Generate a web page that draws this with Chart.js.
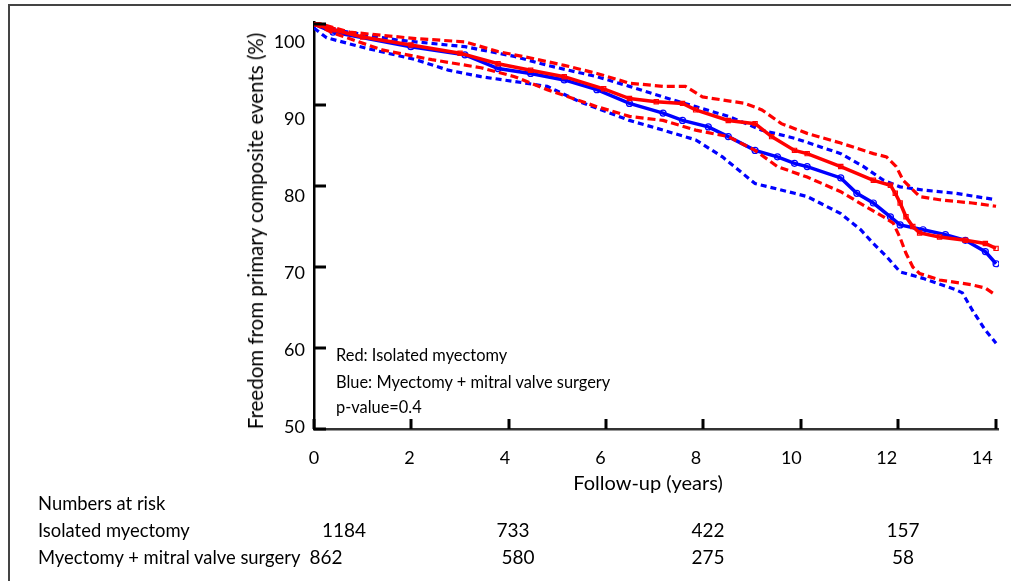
<!DOCTYPE html>
<html><head><meta charset="utf-8">
<script src="https://cdn.jsdelivr.net/npm/chart.js@4/dist/chart.umd.min.js"></script>
<style>
html,body{margin:0;padding:0;background:#fff;}
#wrap{position:relative;width:1011px;height:581px;overflow:hidden;font-family:Lato,"DejaVu Sans",sans-serif;color:#000;}
#frame{position:absolute;left:8px;top:4px;width:1100px;height:700px;border-left:2px solid #444;border-top:2px solid #444;}
canvas{position:absolute;left:0;top:0;}
.t{position:absolute;white-space:nowrap;line-height:20px;}
.a{font-size:16.4px;}
.b{font-size:18.4px;}
.n{font-size:19px;}
</style></head><body>
<div id="wrap">
<div id="frame"></div>
<canvas id="c" width="1011" height="581"></canvas>
<div class="t" style="left:255px;top:231px;font-size:20.5px;transform:translate(-50%,-50%) rotate(-90deg);">Freedom from primary composite events (%)</div>
<div class="t" style="left:648px;top:482px;font-size:20px;transform:translate(-50%,-50%);" id="xt"></div>
<div class="t a" style="left:336px;top:345px;">Red: Isolated myectomy</div>
<div class="t a" style="left:336px;top:372px;">Blue: Myectomy + mitral valve surgery</div>
<div class="t a" style="left:336px;top:397px;">p-value=0.4</div>
<div class="t b" style="left:38px;top:493px;">Numbers at risk</div>
<div class="t b" style="left:38px;top:520px;">Isolated myectomy</div>
<div class="t b" style="left:38px;top:547px;">Myectomy + mitral valve surgery</div>
<div id="risk"></div>
</div>
<script>
// ---- data (years, % free from events) ----
const xTickVals = [0, 2, 4, 6, 8, 10, 12, 14];
const yTickVals = [50, 60, 70, 80, 90, 100];
const xTitle = "Follow-up (years)";

const redT   = [0,0.39,1.0,1.99,3.0,3.78,4.45,5.14,5.95,6.48,7.03,7.57,7.84,8.51,9.06,9.4,9.87,10.13,10.82,11.49,11.84,11.94,12.04,12.16,12.3,12.44,12.85,13.38,13.79,14.01];
const redV   = [100,99.3,98.4,97.4,96.4,95.1,94.3,93.5,92.0,90.8,90.4,90.2,89.4,88.1,87.7,86.1,84.4,84.0,82.4,80.7,80.1,79.1,77.9,76.2,75.0,74.2,73.7,73.3,72.9,72.3];
const redUpT = [0,0.73,2.09,3.1,3.78,4.45,5.14,5.81,6.48,7.17,7.63,7.98,8.85,9.2,9.6,10.13,10.82,11.49,11.76,11.96,12.1,12.24,12.44,12.85,13.52,14.01];
const redUpV = [100.25,99.0,98.2,97.8,96.6,95.8,94.9,93.9,92.7,92.3,92.3,91.0,90.2,89.4,87.7,86.5,85.3,84.0,83.6,82.4,80.7,79.9,78.7,78.3,77.9,77.5];
const redLoT = [0,0.39,1.4,2.42,3.43,4.12,4.79,5.81,6.48,7.17,7.84,8.51,9.06,9.52,10.13,10.82,11.35,11.7,11.9,12.04,12.16,12.3,12.44,12.85,13.52,13.79,14.01];
const redLoV = [100,98.9,96.8,95.6,94.6,93.5,91.9,89.8,88.6,88.1,86.9,86.1,84.4,82.4,81.1,79.3,77.4,76.2,75.4,73.6,71.7,70.0,69.2,68.4,67.8,67.4,66.5];

const blueT   = [0,0.39,1.99,3.1,3.78,4.45,5.14,5.81,6.48,7.17,7.57,8.1,8.51,9.06,9.52,9.87,10.13,10.82,11.15,11.49,11.84,12.04,12.51,12.97,13.38,13.79,14.01];
const blueV   = [100,99.0,97.2,96.2,94.5,93.9,93.1,91.9,90.2,89.0,88.1,87.3,86.1,84.4,83.6,82.8,82.4,81.0,79.1,77.9,76.2,75.2,74.6,74.0,73.3,71.9,70.4];
const blueUpT = [0,0.39,1.75,3.1,4.12,4.79,5.81,6.48,7.17,7.84,8.51,9.2,9.87,10.82,11.29,11.7,12.04,12.51,13.18,14.01];
const blueUpV = [100.25,99.3,98.0,97.2,96.0,94.9,93.5,92.3,91.0,89.8,88.6,86.9,85.9,84.0,82.4,80.7,79.9,79.5,79.1,78.3];
const blueLoT = [0,0.26,1.08,2.09,2.76,3.43,4.12,4.79,5.46,6.48,7.17,7.84,8.39,9.06,9.87,10.13,10.82,11.23,11.49,11.76,12.04,12.51,13.18,13.32,13.52,13.79,14.01];
const blueLoV = [99.5,98.3,97.0,95.6,94.3,93.5,92.9,92.3,90.4,88.1,86.9,85.7,83.6,80.3,79.1,78.7,76.6,74.6,72.9,71.3,69.4,68.6,67.2,66.8,64.7,62.2,60.6];

// numbers at risk
const riskIsolated = [1184, 733, 422, 157];
const riskMitral   = [862, 580, 275, 58];

const pts = (t, v) => t.map((x, i) => ({x: x, y: v[i]}));
const RED = '#ff0000', BLUE = '#0000ff';

document.getElementById('xt').textContent = xTitle;
const riskX1 = [344, 513, 708, 903], riskX2 = [326, 518, 708, 903];
const rk = document.getElementById('risk');
const addRisk = (arr, xs, top) => arr.forEach((n, i) => { const d = document.createElement('div'); d.className = 't n'; d.style.left = xs[i] + 'px'; d.style.top = top + 'px'; d.style.transform = 'translateX(-50%)'; d.textContent = n; rk.appendChild(d); });
addRisk(riskIsolated, riskX1, 520);
addRisk(riskMitral, riskX2, 547);

const inward = {
  id: 'inward',
  afterDraw(chart) {
    const {ctx, chartArea, scales} = chart;
    ctx.save();
    ctx.strokeStyle = '#000'; ctx.lineWidth = 3;
    xTickVals.forEach(v => { const p = Math.round(scales.x.getPixelForValue(v)); ctx.beginPath(); ctx.moveTo(p, chartArea.bottom); ctx.lineTo(p, chartArea.bottom - 10); ctx.stroke(); });
    yTickVals.forEach(v => { const p = Math.round(scales.y.getPixelForValue(v)); ctx.beginPath(); ctx.moveTo(chartArea.left, p); ctx.lineTo(chartArea.left + 12, p); ctx.stroke(); });
    ctx.restore();
  }
};

const solid = (label, data, color, style) => ({label, data, borderColor: color, borderWidth: 3.5, pointStyle: style, pointRadius: 3, pointBorderWidth: 1.2, pointBorderColor: color, pointBackgroundColor: 'rgba(0,0,0,0)', tension: 0, fill: false});
const dashed = (label, data, color, dash) => ({label, data, borderColor: color, borderWidth: 3.2, borderDash: dash, pointRadius: 0, tension: 0, fill: false});

new Chart(document.getElementById('c'), {
  type: 'line',
  data: {datasets: [
    dashed('Isolated upper', pts(redUpT, redUpV), RED, [8, 4]),
    dashed('Isolated lower', pts(redLoT, redLoV), RED, [8, 4]),
    solid('Isolated myectomy', pts(redT, redV), RED, 'rect'),
    dashed('Mitral upper', pts(blueUpT, blueUpV), BLUE, [6, 4]),
    dashed('Mitral lower', pts(blueLoT, blueLoV), BLUE, [6, 4]),
    solid('Myectomy + mitral valve surgery', pts(blueT, blueV), BLUE, 'circle')
  ]},
  options: {
    responsive: false, animation: false, devicePixelRatio: 1,
    layout: {padding: {top: 22, right: 4, bottom: 0, left: 0}},
    plugins: {legend: {display: false}, tooltip: {enabled: false}},
    scales: {
      x: {type: 'linear', display: false, min: 0, max: 14.07},
      y: {type: 'linear', display: false, min: 50, max: 100.25},
      xl: {type: 'linear', position: 'bottom', min: 0, max: 14.35,
        afterBuildTicks: s => { s.ticks = xTickVals.map(v => ({value: v})); },
        afterFit: s => { s.height = 152; },
        grid: {display: false, drawTicks: false},
        border: {display: true, color: '#333', width: 2.5},
        ticks: {font: {family: 'Lato', size: 18}, color: '#000', padding: 18, maxRotation: 0, autoSkip: false}},
      yl: {type: 'linear', position: 'left', min: 49.74, max: 102.6,
        afterBuildTicks: s => { s.ticks = yTickVals.map(v => ({value: v})); },
        afterFit: s => { s.width = 314; },
        grid: {display: false, drawTicks: false},
        border: {display: true, color: '#000', width: 2.5},
        ticks: {font: {family: 'Lato', size: 18}, color: '#000', padding: 9, autoSkip: false}}
    }
  },
  plugins: [inward]
});
</script>
</body></html>
